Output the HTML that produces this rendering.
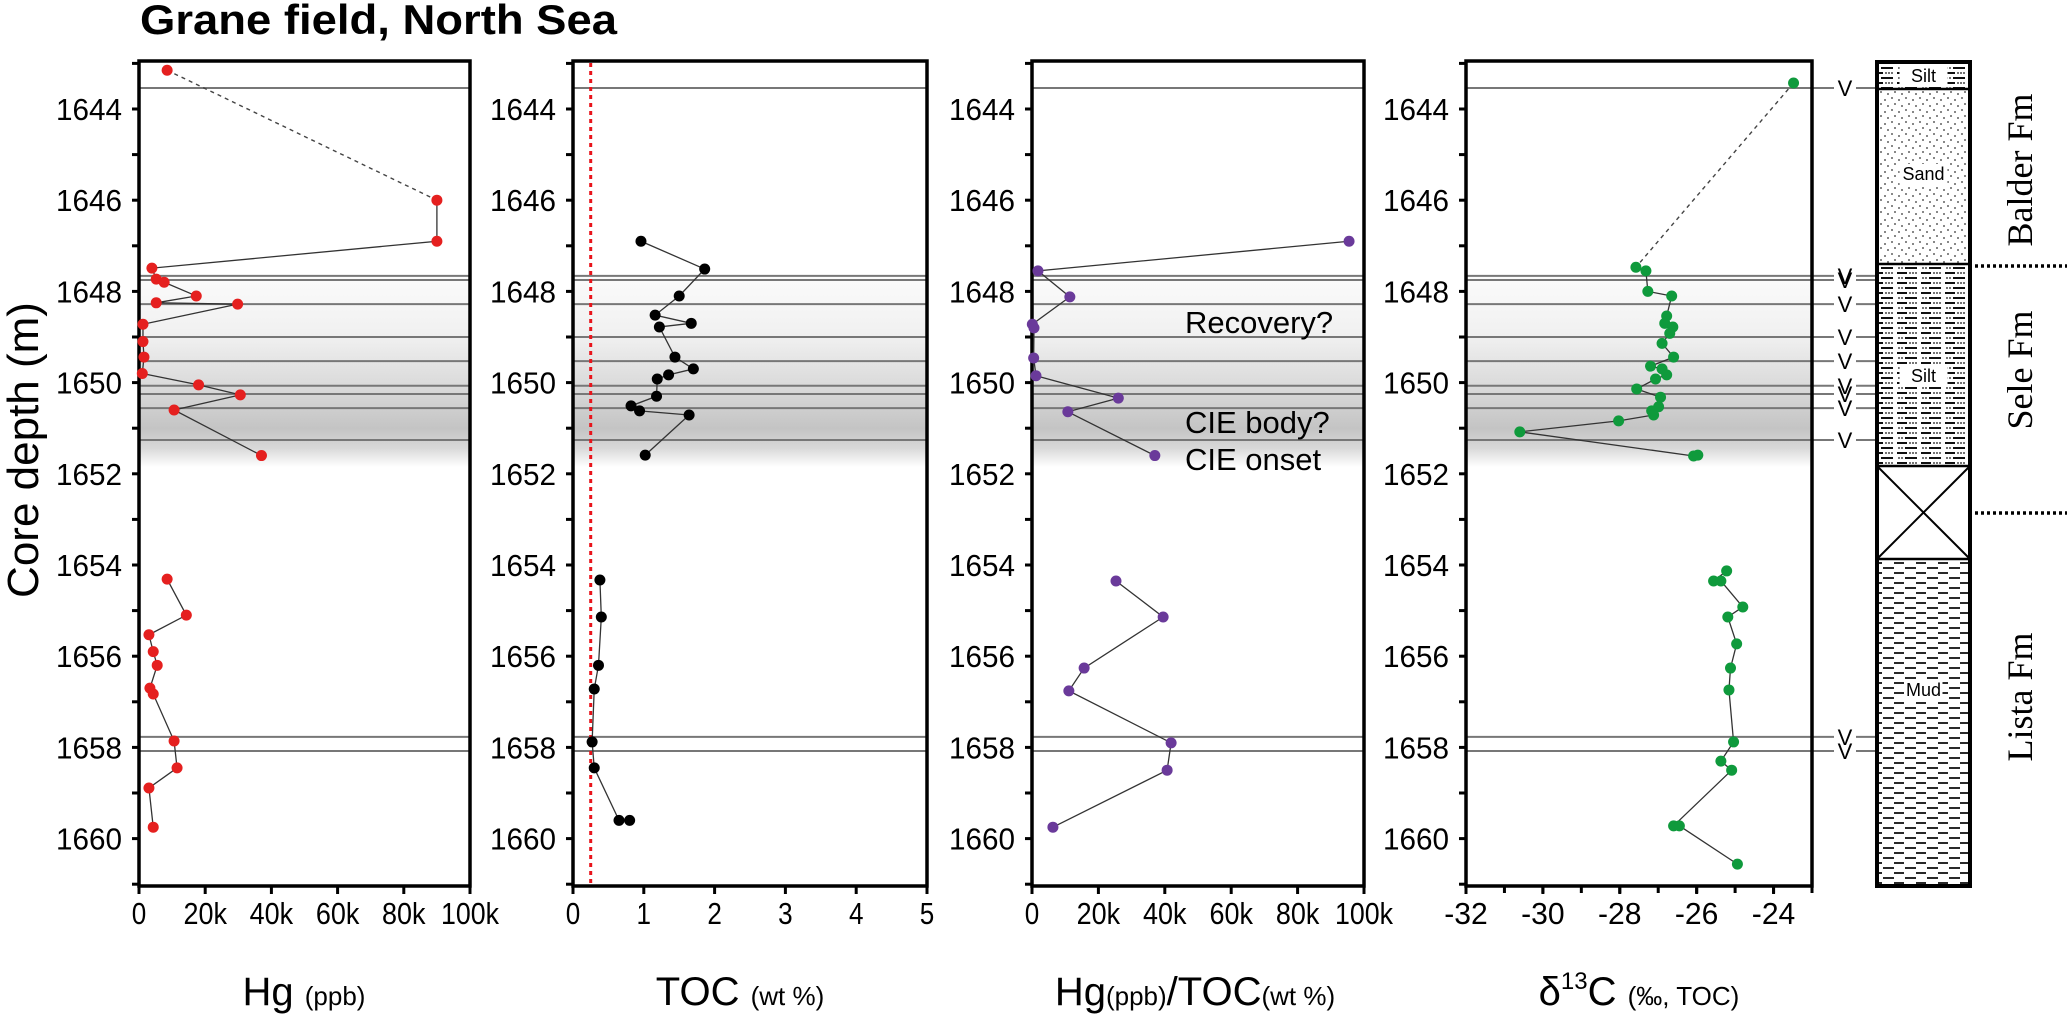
<!DOCTYPE html>
<html><head><meta charset="utf-8"><style>
html,body{margin:0;padding:0;background:#fff;}
svg{display:block;font-family:"Liberation Sans",sans-serif;}
</style></head><body>
<svg id="chart" width="2067" height="1021" viewBox="0 0 2067 1021" xmlns="http://www.w3.org/2000/svg">
<defs>
<linearGradient id="cieShade" x1="0" y1="0" x2="0" y2="1">
<stop offset="0" stop-color="#fbfbfb"/>
<stop offset="0.32" stop-color="#f0f0f0"/>
<stop offset="0.62" stop-color="#d6d6d6"/>
<stop offset="0.8" stop-color="#c4c4c4"/>
<stop offset="0.9" stop-color="#d8d8d8"/>
<stop offset="1" stop-color="#ffffff"/>
</linearGradient>
<pattern id="sandPat" width="14" height="12" patternUnits="userSpaceOnUse">
<circle cx="2" cy="2" r="0.9" fill="#333"/><circle cx="9" cy="4" r="0.9" fill="#333"/>
<circle cx="5" cy="8" r="0.9" fill="#333"/><circle cx="12" cy="10" r="0.9" fill="#333"/>
</pattern>
<pattern id="siltPat" width="24" height="10" patternUnits="userSpaceOnUse">
<line x1="1" y1="3" x2="11" y2="3" stroke="#111" stroke-width="2"/>
<circle cx="14" cy="3" r="0.9" fill="#111"/><circle cx="17" cy="3" r="0.9" fill="#111"/><circle cx="20" cy="3" r="0.9" fill="#111"/>
<circle cx="3" cy="8" r="0.9" fill="#111"/><circle cx="6" cy="8" r="0.9" fill="#111"/>
<line x1="9" y1="8" x2="21" y2="8" stroke="#111" stroke-width="2"/>
</pattern>
<pattern id="mudPat" width="22" height="10" patternUnits="userSpaceOnUse">
<line x1="2" y1="3" x2="12" y2="3" stroke="#111" stroke-width="1.8"/>
<line x1="13" y1="8" x2="22" y2="8" stroke="#111" stroke-width="1.8"/>
<line x1="0" y1="8" x2="2" y2="8" stroke="#111" stroke-width="1.8"/>
</pattern>
</defs>
<text x="140" y="34" font-size="42" font-weight="bold" textLength="477" lengthAdjust="spacingAndGlyphs">Grane field, North Sea</text>
<text transform="translate(38,450) rotate(-90)" text-anchor="middle" font-size="44">Core depth (m)</text>
<g id="layer"></g>
</svg>
<script>
// ---- data ----
const depthLines = [1643.54, 1647.66, 1647.75, 1648.28, 1649.0, 1649.53, 1650.07, 1650.25, 1650.56, 1651.26, 1657.77, 1658.08];
const yTicks = [1644, 1646, 1648, 1650, 1652, 1654, 1656, 1658, 1660];

const hgTopDepth = [1643.15, 1646.0];
const hgTopVal = [8.5, 90];
const hgUpperDepth = [1646.0, 1646.9, 1647.49, 1647.73, 1647.8, 1648.1, 1648.25, 1648.28, 1648.72, 1649.1, 1649.44, 1649.8, 1650.05, 1650.27, 1650.6, 1651.6];
const hgUpperVal = [90, 90, 3.9, 5.2, 7.6, 17.3, 5.2, 29.8, 1.2, 1.2, 1.5, 1.0, 18, 30.6, 10.6, 37];
const hgLowerDepth = [1654.31, 1655.1, 1655.53, 1655.9, 1656.2, 1656.7, 1656.83, 1657.86, 1658.45, 1658.89, 1659.75];
const hgLowerVal = [8.5, 14.3, 3, 4.3, 5.5, 3.3, 4.3, 10.6, 11.5, 3, 4.3];

const tocUpperDepth = [1646.9, 1647.51, 1648.1, 1648.52, 1648.7, 1648.78, 1649.44, 1649.7, 1649.83, 1649.92, 1650.3, 1650.51, 1650.62, 1650.71, 1651.59];
const tocUpperVal = [0.96, 1.86, 1.5, 1.16, 1.67, 1.22, 1.44, 1.7, 1.35, 1.19, 1.18, 0.82, 0.94, 1.64, 1.02];
const tocLowerDepth = [1654.33, 1655.14, 1656.2, 1656.72, 1657.88, 1658.45, 1659.6, 1659.6];
const tocLowerVal = [0.38, 0.4, 0.36, 0.3, 0.27, 0.3, 0.65, 0.8];
const tocCutoff = [0.25];

const ratioUpperDepth = [1646.9, 1647.55, 1648.12, 1648.72, 1648.8, 1649.46, 1649.85, 1650.34, 1650.64, 1651.6];
const ratioUpperVal = [95.5, 1.8, 11.4, 0.1, 0.6, 0.5, 1.2, 26, 10.8, 37];
const ratioLowerDepth = [1654.35, 1655.14, 1656.26, 1656.76, 1657.9, 1658.5, 1659.75];
const ratioLowerVal = [25.3, 39.5, 15.7, 11.1, 41.9, 40.7, 6.3];

const d13TopDepth = [1643.43, 1647.47];
const d13TopVal = [-23.48, -27.58];
const d13UpperDepth = [1647.47, 1647.55, 1648.0, 1648.1, 1648.54, 1648.7, 1648.78, 1648.92, 1649.14, 1649.44, 1649.64, 1649.7, 1649.83, 1649.92, 1650.14, 1650.32, 1650.53, 1650.62, 1650.71, 1650.84, 1651.08, 1651.61, 1651.59];
const d13UpperVal = [-27.58, -27.32, -27.27, -26.65, -26.78, -26.83, -26.62, -26.7, -26.9, -26.6, -27.2, -26.9, -26.78, -27.07, -27.56, -26.94, -26.99, -27.17, -27.12, -28.03, -30.6, -26.08, -25.97];
const d13LowerDepth = [1654.13, 1654.35, 1654.35, 1654.92, 1655.14, 1655.73, 1656.26, 1656.74, 1657.88, 1658.3, 1658.5, 1659.72, 1659.72, 1660.56];
const d13LowerVal = [-25.22, -25.56, -25.37, -24.8, -25.19, -24.96, -25.12, -25.16, -25.04, -25.37, -25.09, -26.6, -26.45, -24.94];

const hgTickLabels = ["0", "20k", "40k", "60k", "80k", "100k"];
const hgTickVals = [0, 20, 40, 60, 80, 100];
const tocTickVals = [0, 1, 2, 3, 4, 5];
const d13TickVals = [-32, -30, -28, -26, -24];

// ---- layout ----
const NS = "http://www.w3.org/2000/svg";
const layer = document.getElementById('layer');
const TOP = 61, BOT = 886;
function y(d) { return 109 + (d - 1644) * 45.6; }
function mk(tag, attrs, parent) {
  const e = document.createElementNS(NS, tag);
  for (const k in attrs) e.setAttribute(k, attrs[k]);
  (parent || layer).appendChild(e);
  return e;
}
const panels = [
  {key: 'hg', x0: 139, x1: 470, min: 0, max: 100},
  {key: 'toc', x0: 573, x1: 927, min: 0, max: 5},
  {key: 'ratio', x0: 1032, x1: 1364, min: 0, max: 100},
  {key: 'd13c', x0: 1466, x1: 1812, min: -32, max: -23}
];
function xs(p, v) { return p.x0 + (v - p.min) / (p.max - p.min) * (p.x1 - p.x0); }

panels.forEach(p => {
  const g = mk('g', {});
  
  
  const shade = mk('rect', {x: p.x0, y: y(1647.66), width: p.x1 - p.x0, height: y(1651.85) - y(1647.66), fill: 'url(#cieShade)'}, g);
  
  
  const lineEnd = p.key === 'd13c' ? 1877 : p.x1;
  depthLines.forEach(d => {
    if (p.key === 'd13c') {
      const l1 = mk('line', {x1: p.x0, x2: 1834, y1: y(d), y2: y(d), stroke: '#777', 'stroke-width': 2}, g);
      
      
      mk('line', {x1: 1856, x2: lineEnd, y1: y(d), y2: y(d), stroke: '#777', 'stroke-width': 2}, g);
      const v = mk('text', {x: 1845, y: y(d) + 8, 'text-anchor': 'middle', 'font-size': 22}, g);
      v.textContent = 'V';
      
      
    } else {
      const l = mk('line', {x1: p.x0, x2: lineEnd, y1: y(d), y2: y(d), stroke: '#777', 'stroke-width': 2}, g);
      
      
    }
  });
  const fr = mk('rect', {x: p.x0, y: TOP, width: p.x1 - p.x0, height: BOT - TOP, fill: 'none', stroke: '#000', 'stroke-width': 3.5}, g);
  
  
  for (let d = 1643; d <= 1661; d++) {
    mk('line', {x1: p.x0 - 7, x2: p.x0, y1: y(d), y2: y(d), stroke: '#000', 'stroke-width': 3}, g);
  }
  yTicks.forEach(d => {
    const t = mk('text', {x: p.x0 - 17, y: y(d) + 11, 'text-anchor': 'end', 'font-size': 31, textLength: 66, lengthAdjust: 'spacingAndGlyphs'}, g);
    t.textContent = d;
    
    
  });
});

function xTicks(p, vals, labels, minorStep) {
  if (minorStep) for (let v = p.min; v <= p.max + 1e-9; v += minorStep) {
    mk('line', {x1: xs(p, v), x2: xs(p, v), y1: BOT, y2: BOT + 7, stroke: '#000', 'stroke-width': 3});
  }
  vals.forEach((v, i) => {
    mk('line', {x1: xs(p, v), x2: xs(p, v), y1: BOT, y2: BOT + 8, stroke: '#000', 'stroke-width': 3});
    const lab = String(labels[i]);
    const t = mk('text', {x: xs(p, v), y: 924, 'text-anchor': 'middle', 'font-size': 31, textLength: lab.length * 14.5, lengthAdjust: 'spacingAndGlyphs'});
    t.textContent = lab;
    
    
  });
}
xTicks(panels[0], hgTickVals, hgTickLabels, 0);
xTicks(panels[1], tocTickVals, tocTickVals.map(String), 0);
xTicks(panels[2], hgTickVals, hgTickLabels, 0);
xTicks(panels[3], d13TickVals, d13TickVals.map(String), 1);

function title(x, html, name) {
  const t = mk('text', {x: x, y: 1005, 'text-anchor': 'middle', 'font-size': 40});
  t.innerHTML = html;
  
  
}
title(304, 'Hg <tspan font-size="26">(ppb)</tspan>', 'hg-axis-title');
title(740, 'TOC <tspan font-size="26">(wt %)</tspan>', 'toc-axis-title');
title(1195, 'Hg<tspan font-size="26">(ppb)</tspan>/TOC<tspan font-size="26">(wt %)</tspan>', 'ratio-axis-title');
title(1639, 'δ<tspan font-size="24" dy="-16">13</tspan><tspan dy="16">C</tspan> <tspan font-size="26">(‰, TOC)</tspan>', 'd13c-axis-title');

const cut = mk('line', {x1: xs(panels[1], tocCutoff[0]), x2: xs(panels[1], tocCutoff[0]), y1: TOP + 2, y2: BOT - 2, stroke: '#e8141b', 'stroke-width': 3, 'stroke-dasharray': '4 4'});



function series(p, depths, vals, color, dashed, name, dots) {
  const pts = depths.map((d, i) => xs(p, vals[i]) + ',' + y(d)).join(' ');
  const pl = mk('polyline', {points: pts, fill: 'none', stroke: dashed ? '#444' : '#333', 'stroke-width': dashed ? 1.4 : 1.3, 'stroke-dasharray': dashed ? '4 4' : 'none'});
  
  
  if (dots) depths.forEach((d, i) => {
    const c = mk('circle', {cx: xs(p, vals[i]), cy: y(d), r: 5.5, fill: color});
    
    
  });
}
const RED = '#e5201f', BLK = '#000', PUR = '#6a3a9a', GRN = '#0f9a3c';
series(panels[0], hgTopDepth, hgTopVal, RED, true, 'hg-gap', false);
series(panels[0], hgUpperDepth, hgUpperVal, RED, false, 'hg-upper', true);
series(panels[0], [hgTopDepth[0]], [hgTopVal[0]], RED, false, 'hg-top', true);
series(panels[0], hgLowerDepth, hgLowerVal, RED, false, 'hg-lower', true);
series(panels[1], tocUpperDepth, tocUpperVal, BLK, false, 'toc-upper', true);
series(panels[1], tocLowerDepth, tocLowerVal, BLK, false, 'toc-lower', true);
series(panels[2], ratioUpperDepth, ratioUpperVal, PUR, false, 'ratio-upper', true);
series(panels[2], ratioLowerDepth, ratioLowerVal, PUR, false, 'ratio-lower', true);
series(panels[3], d13TopDepth, d13TopVal, GRN, true, 'd13c-gap', false);
series(panels[3], [d13TopDepth[0]], [d13TopVal[0]], GRN, false, 'd13c-top', true);
series(panels[3], d13UpperDepth, d13UpperVal, GRN, false, 'd13c-upper', true);
series(panels[3], d13LowerDepth, d13LowerVal, GRN, false, 'd13c-lower', true);

[['Recovery?', 333, 'recovery-label'], ['CIE body?', 433, 'cie-body-label'], ['CIE onset', 470, 'cie-onset-label']].forEach(a => {
  const t = mk('text', {x: 1185, y: a[1], 'font-size': 31});
  t.textContent = a[0];
  
  
});

const LX0 = 1877, LX1 = 1970;
const lith = mk('g', {});


mk('rect', {x: LX0, y: 62, width: LX1 - LX0, height: 27, fill: 'url(#siltPat)'}, lith);
mk('rect', {x: LX0, y: 89, width: LX1 - LX0, height: 175, fill: 'url(#sandPat)'}, lith);
mk('rect', {x: LX0, y: 264, width: LX1 - LX0, height: 202, fill: 'url(#siltPat)'}, lith);
mk('rect', {x: LX0, y: 559, width: LX1 - LX0, height: 327, fill: 'url(#mudPat)'}, lith);
mk('line', {x1: LX0, y1: 466, x2: LX1, y2: 559, stroke: '#000', 'stroke-width': 2}, lith);
mk('line', {x1: LX1, y1: 466, x2: LX0, y2: 559, stroke: '#000', 'stroke-width': 2}, lith);
[89, 264, 466, 559].forEach(v => mk('line', {x1: LX0, x2: LX1, y1: v, y2: v, stroke: '#000', 'stroke-width': 2.5}, lith));
mk('rect', {x: LX0, y: 62, width: LX1 - LX0, height: 824, fill: 'none', stroke: '#000', 'stroke-width': 4}, lith);
[['Silt', 82], ['Sand', 180], ['Silt', 382], ['Mud', 696]].forEach(s => {
  const w = s[0].length * 10 + 8;
  mk('rect', {x: (LX0 + LX1) / 2 - w / 2, y: s[1] - 16, width: w, height: 21, fill: '#fff'}, lith);
  const t = mk('text', {x: (LX0 + LX1) / 2, y: s[1], 'text-anchor': 'middle', 'font-size': 18}, lith);
  t.textContent = s[0];
  
  
});
[266, 513].forEach(v => {
  const l = mk('line', {x1: 1975, x2: 2067, y1: v, y2: v, stroke: '#000', 'stroke-width': 3.5, 'stroke-dasharray': '3 3'});
  
  
});
[['Balder Fm', 170, 'balder-fm-label'], ['Sele Fm', 370, 'sele-fm-label'], ['Lista Fm', 697, 'lista-fm-label']].forEach(f => {
  const t = mk('text', {transform: 'translate(2032,' + f[1] + ') rotate(-90)', 'text-anchor': 'middle', 'font-size': 36, 'font-family': '"Liberation Serif", serif'});
  t.textContent = f[0];
  
  
});
</script>
</body></html>
